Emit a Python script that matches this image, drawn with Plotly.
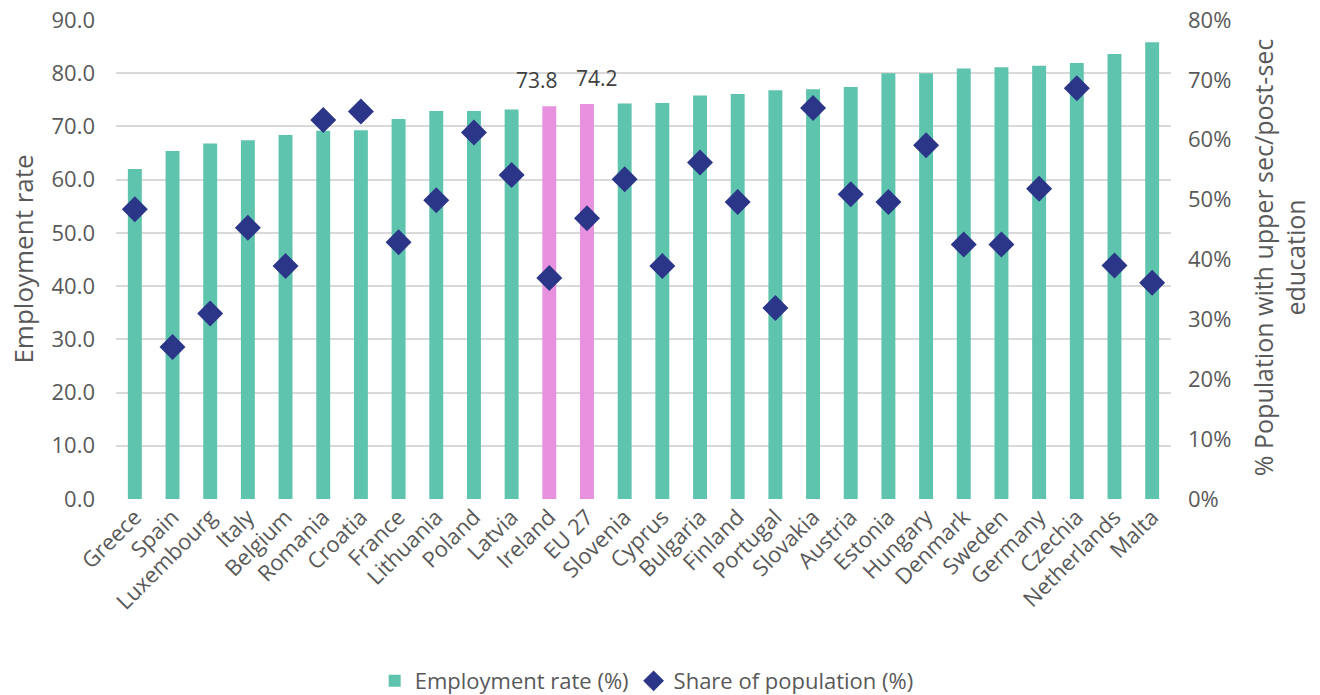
import plotly.graph_objects as go

countries = ["Greece", "Spain", "Luxembourg", "Italy", "Belgium", "Romania", "Croatia",
             "France", "Lithuania", "Poland", "Latvia", "Ireland", "EU 27", "Slovenia",
             "Cyprus", "Bulgaria", "Finland", "Portugal", "Slovakia", "Austria", "Estonia",
             "Hungary", "Denmark", "Sweden", "Germany", "Czechia", "Netherlands", "Malta"]
employment_rate = [62.0, 65.4, 66.8, 67.4, 68.4, 69.2, 69.3,
                   71.4, 72.9, 72.9, 73.2, 73.8, 74.2, 74.3,
                   74.4, 75.8, 76.1, 76.8, 77.0, 77.4, 80.0,
                   80.0, 80.9, 81.1, 81.4, 81.9, 83.6, 85.8]
share_population = [48.4, 25.4, 31.0, 45.3, 38.9, 63.3, 64.7,
                    42.9, 49.9, 61.2, 54.1, 36.9, 46.9, 53.4,
                    38.9, 56.2, 49.6, 31.9, 65.3, 50.9, 49.6,
                    59.1, 42.5, 42.5, 51.8, 68.6, 39.0, 36.1]
highlighted = ["Ireland", "EU 27"]
left_ticks = [0, 10, 20, 30, 40, 50, 60, 70, 80, 90]
right_ticks = [0, 10, 20, 30, 40, 50, 60, 70, 80]

TEAL = "#5FC4AD"
PINK = "#E891DF"
NAVY = "#2B3688"
GREY = "#595959"
FONT = "Open Sans"

bar_colors = [PINK if c in highlighted else TEAL for c in countries]

fig = go.Figure()
fig.add_trace(go.Bar(
    x=countries, y=employment_rate, name="Employment rate (%)",
    marker=dict(color=bar_colors, line=dict(width=0)),
    width=0.37,
))
fig.add_trace(go.Scatter(
    x=countries, y=share_population, name="Share of population (%)",
    mode="markers", yaxis="y2",
    marker=dict(symbol="diamond", size=20, color=NAVY),
))

# value labels for highlighted bars
label_shift = {"Ireland": -12, "EU 27": 10}
annotations = []
for c, v in zip(countries, employment_rate):
    if c in highlighted:
        annotations.append(dict(x=c, y=v, xref="x", yref="y", text=f"{v:.1f}",
                                showarrow=False, yanchor="bottom", yshift=10,
                                xshift=label_shift.get(c, 0),
                                font=dict(size=21, color="#404040")))
annotations += [
    dict(text="Employment rate", xref="paper", yref="paper", x=-0.089, y=0.5,
         xanchor="center", yanchor="middle", textangle=-90, showarrow=False,
         font=dict(size=26, color=GREY)),
    dict(text="% Population with upper sec/post-sec<br>education", xref="paper", yref="paper",
         x=1.1024, y=0.505, xanchor="center", yanchor="middle", textangle=-90, showarrow=False,
         font=dict(size=25, color=GREY)),
]

fig.update_layout(
    width=1320, height=695,
    margin=dict(l=116, r=149, t=20, b=196, autoexpand=False),
    paper_bgcolor="white", plot_bgcolor="white",
    font=dict(family=FONT, color=GREY, size=22),
    showlegend=True,
    legend=dict(orientation="h", x=0.503, xanchor="center", y=-0.38, yanchor="middle",
                font=dict(size=22, color=GREY), itemwidth=30, traceorder="normal"),
    xaxis=dict(tickangle=-45, tickfont=dict(size=22, color=GREY), showgrid=False,
               showline=False, ticks="", automargin=False, range=[-0.5, len(countries) - 0.5]),
    yaxis=dict(range=[0, 90], tickvals=left_ticks,
               ticktext=[f"{t:.1f}" for t in left_ticks],
               showgrid=True, gridcolor="#D9D9D9", gridwidth=1.5, zeroline=False,
               tickfont=dict(size=22, color=GREY), automargin=False,
               ticklabelstandoff=20, ticklabeloverflow="allow"),
    yaxis2=dict(range=[0, 80], tickvals=right_ticks,
                ticktext=[f"{t}%" for t in right_ticks],
                overlaying="y", side="right", showgrid=False, zeroline=False,
                tickfont=dict(size=22, color=GREY), automargin=False,
                ticklabelstandoff=16, ticklabeloverflow="allow"),
    annotations=annotations,
)

fig.write_html("out.html", config={"displayModeBar": False},
               post_script="document.body.style.margin='0';")
